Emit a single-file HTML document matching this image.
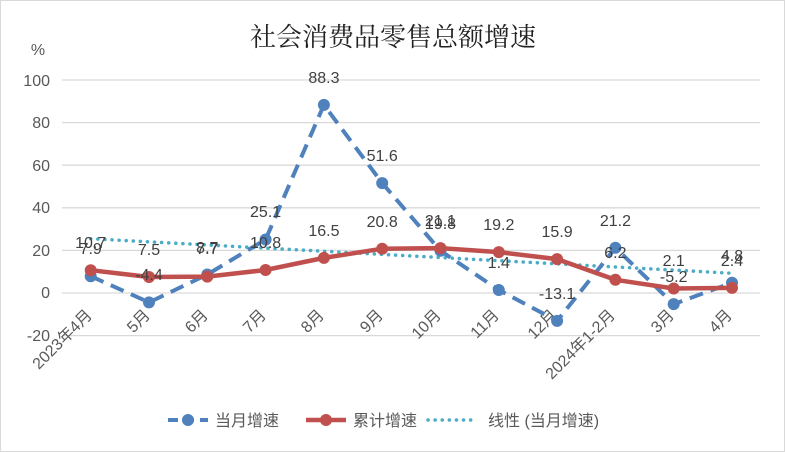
<!DOCTYPE html>
<html><head><meta charset="utf-8"><style>
body{margin:0;background:#fff}
svg{display:block;font-family:"Liberation Sans","Noto Sans CJK SC",sans-serif}
</style></head><body>
<svg width="785" height="452" viewBox="0 0 785 452">
<rect x="0.5" y="0.5" width="784" height="451" fill="#fff" stroke="#d9d9d9"/>
<text x="393" y="46" text-anchor="middle" font-size="26" fill="#222" font-family="'Noto Serif CJK SC','Noto Sans CJK SC',serif">社会消费品零售总额增速</text>
<text x="38" y="55" text-anchor="middle" font-size="16" fill="#595959">%</text>
<g stroke="#d9d9d9" stroke-width="1.3">
<line x1="62" x2="760" y1="80" y2="80"/><line x1="62" x2="760" y1="122.6" y2="122.6"/>
<line x1="62" x2="760" y1="165.2" y2="165.2"/><line x1="62" x2="760" y1="207.8" y2="207.8"/>
<line x1="62" x2="760" y1="250.4" y2="250.4"/><line x1="62" x2="760" y1="293" y2="293"/>
<line x1="62" x2="760" y1="335.6" y2="335.6"/>
</g>
<g font-size="16" fill="#595959" text-anchor="end">
<text x="50" y="86">100</text><text x="50" y="128">80</text><text x="50" y="171">60</text>
<text x="50" y="213">40</text><text x="50" y="256">20</text><text x="50" y="298">0</text><text x="50" y="341">-20</text>
</g>
<g font-size="16" fill="#595959" text-anchor="end">
<text transform="translate(93,316) rotate(-45)">2023年4月</text>
<text transform="translate(151,316) rotate(-45)">5月</text>
<text transform="translate(209,316) rotate(-45)">6月</text>
<text transform="translate(267,316) rotate(-45)">7月</text>
<text transform="translate(325,316) rotate(-45)">8月</text>
<text transform="translate(384,316) rotate(-45)">9月</text>
<text transform="translate(442,316) rotate(-45)">10月</text>
<text transform="translate(500,316) rotate(-45)">11月</text>
<text transform="translate(558,316) rotate(-45)">12月</text>
<text transform="translate(616,316) rotate(-45)">2024年1-2月</text>
<text transform="translate(675,316) rotate(-45)">3月</text>
<text transform="translate(733,316) rotate(-45)">4月</text>
</g>
<line x1="90.7" y1="238.7" x2="731" y2="273.2" stroke="#4bacc6" stroke-width="3.5" stroke-dasharray="0.1 7" stroke-linecap="round"/>
<polyline fill="none" stroke="#4f81bd" stroke-width="4" stroke-dasharray="14 8" points="90.7,276.2 149,302.4 207.3,274.5 265.6,239.5 323.9,104.9 382.2,183.1 440.5,250.8 498.8,290 557.1,320.9 615.4,247.8 673.7,304.1 732,282.8"/>
<g fill="#4f81bd">
<circle cx="90.7" cy="276.2" r="6"/><circle cx="149" cy="302.4" r="6"/><circle cx="207.3" cy="274.5" r="6"/><circle cx="265.6" cy="239.5" r="6"/><circle cx="323.9" cy="104.9" r="6"/><circle cx="382.2" cy="183.1" r="6"/><circle cx="440.5" cy="250.8" r="6"/><circle cx="498.8" cy="290" r="6"/><circle cx="557.1" cy="320.9" r="6"/><circle cx="615.4" cy="247.8" r="6"/><circle cx="673.7" cy="304.1" r="6"/><circle cx="732" cy="282.8" r="6"/>
</g>
<polyline fill="none" stroke="#c0504d" stroke-width="4.5" points="90.7,270.2 149,277 207.3,276.6 265.6,270 323.9,257.9 382.2,248.7 440.5,248.1 498.8,252.1 557.1,259.1 615.4,279.8 673.7,288.5 732,287.9"/>
<g fill="#c0504d">
<circle cx="90.7" cy="270.2" r="6"/><circle cx="149" cy="277" r="6"/><circle cx="207.3" cy="276.6" r="6"/><circle cx="265.6" cy="270" r="6"/><circle cx="323.9" cy="257.9" r="6"/><circle cx="382.2" cy="248.7" r="6"/><circle cx="440.5" cy="248.1" r="6"/><circle cx="498.8" cy="252.1" r="6"/><circle cx="557.1" cy="259.1" r="6"/><circle cx="615.4" cy="279.8" r="6"/><circle cx="673.7" cy="288.5" r="6"/><circle cx="732" cy="287.9" r="6"/>
</g>
<g font-size="16" fill="#404040" text-anchor="middle">
<text x="90.7" y="254">7.9</text><text x="149" y="280">-4.4</text><text x="207.3" y="253">8.7</text><text x="265.6" y="217">25.1</text><text x="323.9" y="83">88.3</text><text x="382.2" y="161">51.6</text><text x="440.5" y="229">19.8</text><text x="498.8" y="268">1.4</text><text x="557.1" y="299">-13.1</text><text x="615.4" y="226">21.2</text><text x="673.7" y="282">-5.2</text><text x="732" y="261">4.8</text>
<text x="90.7" y="248">10.7</text><text x="149" y="255">7.5</text><text x="207.3" y="254">7.7</text><text x="265.6" y="248">10.8</text><text x="323.9" y="236">16.5</text><text x="382.2" y="227">20.8</text><text x="440.5" y="226">21.1</text><text x="498.8" y="230">19.2</text><text x="557.1" y="237">15.9</text><text x="615.4" y="258">6.2</text><text x="673.7" y="266">2.1</text><text x="732" y="266">2.4</text>
</g>
<g font-size="16" fill="#595959">
<line x1="168" y1="420" x2="208" y2="420" stroke="#4f81bd" stroke-width="4" stroke-dasharray="10 6"/>
<circle cx="188" cy="420" r="6" fill="#4f81bd"/>
<text x="215" y="426">当月增速</text>
<line x1="306" y1="420" x2="346" y2="420" stroke="#c0504d" stroke-width="4.5"/>
<circle cx="326" cy="420" r="6" fill="#c0504d"/>
<text x="353" y="426">累计增速</text>
<line x1="428" y1="420" x2="476" y2="420" stroke="#4bacc6" stroke-width="3.5" stroke-dasharray="0.1 7" stroke-linecap="round"/>
<text x="488" y="426">线性 (当月增速)</text>
</g>
</svg>
</body></html>
